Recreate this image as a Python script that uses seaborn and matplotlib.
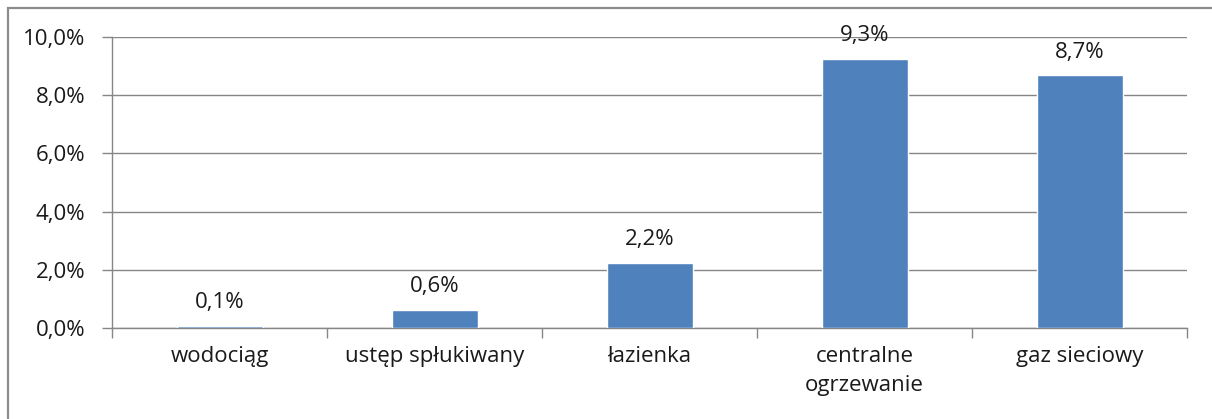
import matplotlib
matplotlib.use("Agg")
import matplotlib.pyplot as plt
import seaborn as sns
import pandas as pd
from matplotlib.patches import Rectangle
from matplotlib.ticker import FixedLocator

categories = ["wodociąg", "ustęp spłukiwany", "łazienka", "centralne\nogrzewanie", "gaz sieciowy"]
values = [0.07, 0.62, 2.24, 9.26, 8.69]
yticks = [0, 2, 4, 6, 8, 10]

sns.set_theme(style="white")
plt.rcParams["font.family"] = ["Open Sans", "DejaVu Sans"]

df = pd.DataFrame({"cat": categories, "val": values})

fig = plt.figure(figsize=(12.12, 4.19), dpi=100)
W, H = 1212, 419
ax = fig.add_axes([112 / W, 1 - 328 / H, (1187 - 112) / W, (328 - 37) / H])

sns.barplot(data=df, x="cat", y="val", color="#4F81BD", saturation=1, width=0.4, ax=ax, zorder=3)

ax.set_xlim(-0.5, len(categories) - 0.5)
ax.set_ylim(0, 10)
ax.set_yticks(yticks)
ax.set_yticklabels([f"{v:.1f}".replace(".", ",") + "%" for v in yticks])
ax.yaxis.grid(True, color="#868686", linewidth=1, zorder=0)
ax.set_axisbelow(True)
ax.set_xlabel("")
ax.set_ylabel("")

for s in ["top", "right"]:
    ax.spines[s].set_visible(False)
for s in ["left", "bottom"]:
    ax.spines[s].set_color("#868686")
    ax.spines[s].set_linewidth(1)

FS = 16
ax.tick_params(axis="y", which="major", length=7, width=1, color="#868686", pad=12,
               labelsize=FS, labelcolor="#1a1a1a", left=True)
ax.tick_params(axis="x", which="major", length=0, pad=13, labelsize=FS, labelcolor="#1a1a1a")
ax.xaxis.set_minor_locator(FixedLocator([i - 0.5 for i in range(len(categories) + 1)]))
ax.tick_params(axis="x", which="minor", length=7, width=1, color="#868686", bottom=True)

for lbl in ax.get_xticklabels():
    lbl.set_linespacing(1.5)

labels = [f"{v:.1f}".replace(".", ",") + "%" for v in values]
ax.bar_label(ax.containers[0], labels=labels, padding=9, fontsize=FS, color="#1a1a1a")

fig.patches.append(Rectangle((8 / W, -0.1), 1.2, 1 - 8 / H + 0.1, transform=fig.transFigure,
                             fill=False, edgecolor="#8c8c8c", linewidth=1.6, zorder=10))

fig.savefig("out.png", dpi=100, facecolor="white")
